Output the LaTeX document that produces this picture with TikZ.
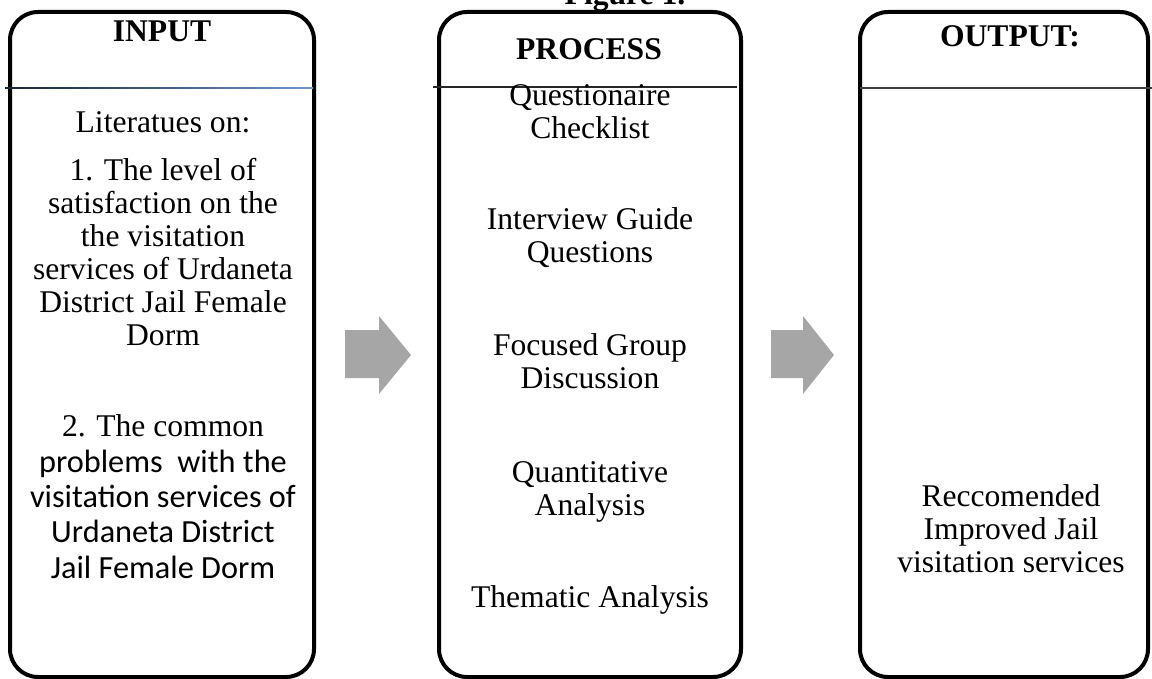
\documentclass[tikz,border=0pt]{standalone}
\usepackage{fontspec}
\setmainfont{Liberation Serif}
\newfontfamily\calibrifont{Carlito}
\usepackage{xcolor}
\usetikzlibrary{positioning}

\definecolor{arrowgray}{RGB}{166,166,166}
\definecolor{rulenavy}{RGB}{25,35,50}
\definecolor{ruleblue}{RGB}{110,150,205}
\newcommand{\cbline}[1]{{\calibrifont\fontsize{32.3}{35.3}\selectfont #1}}

\begin{document}
\begin{tikzpicture}[x=1pt, y=-1pt,
        panel/.style={draw=black, line width=4pt, rounded corners=28pt},
        divider/.style={line width=1.3pt},
        blockarrow/.style={fill=arrowgray, draw=none},
        body/.style={font=\fontsize{31.6}{33}\selectfont, align=center, anchor=base, inner sep=0pt},
        heading/.style={font=\fontsize{31.6}{33}\selectfont\bfseries, anchor=base, inner sep=0pt}]
        \path[use as bounding box, clip] (0,0) rectangle (1152,679);

        \node[heading] (figtitle) at (625,5) {Figure 1.};

        % the three panels
        \draw[panel] (10,12) rectangle (314,677);
        \draw[panel] (439,12) rectangle (741,677);
        \draw[panel] (860,12) rectangle (1148,677);
        \shade[left color=rulenavy, right color=ruleblue] (5,87.3) rectangle (313,88.7);
        \draw[divider, black!85] (433,87) -- (737,87);
        \draw[divider, black!75] (860,88) -- (1152,88);

        % block arrows between the panels
        \draw[blockarrow] (345,330) -- (379,330) -- (379,316) -- (411,355) -- (379,394) -- (379,378) -- (345,378) -- cycle;
        \draw[blockarrow] (771,330) -- (803,330) -- (803,316) -- (834,355) -- (803,394) -- (803,378) -- (771,378) -- cycle;

        \node[heading] (inhead) at (162,42) {INPUT};
        \node[heading] (prochead) at (589,60) {PROCESS};
        \node[heading] (outhead) at (1010,47) {OUTPUT:};

        % base anchor sits on the last line
        \node[body] (litlabel) at (163,133) {Literatues on:};
        \node[body] (litone) at (163,345) {1. The level of\\satisfaction on the\\the visitation\\services of Urdaneta\\District Jail Female\\Dorm};
        \node[body, font=\fontsize{31.6}{35.3}\selectfont] (littwo) at (163,578) {2. The common\\\cbline{problems~~with the}\\\cbline{visitation services of}\\\cbline{Urdaneta District}\\\cbline{Jail Female Dorm}};

        \node[body] (quest) at (590,139) {Questionaire\\Checklist};
        \node[body] (guide) at (590,263) {Interview Guide\\Questions};
        \node[body] (fgd) at (590,388) {Focused Group\\Discussion};
        \node[body] (quant) at (590,515) {Quantitative\\Analysis};
        \node[body] (thematic) at (590,607) {Thematic Analysis};

        \node[body] (recom) at (1011,572) {Reccomended\\Improved Jail\\visitation services};
    \end{tikzpicture}
\end{document}
